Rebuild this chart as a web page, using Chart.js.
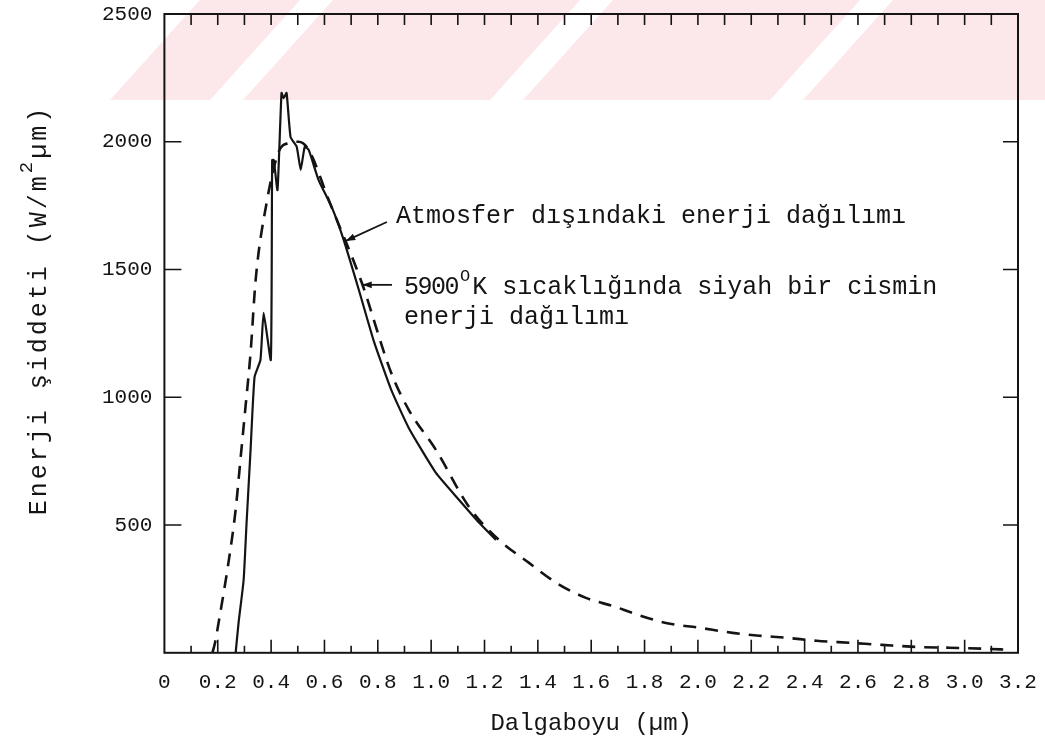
<!DOCTYPE html>
<html>
<head>
<meta charset="utf-8">
<script src="https://cdn.jsdelivr.net/npm/chart.js@4.4.0/dist/chart.umd.min.js"></script>
<style>
  html, body { margin: 0; padding: 0; background: #fff; }
  #wrap { width: 1045px; height: 747px; }
</style>
</head>
<body>
<div id="wrap"><canvas id="chart" width="1045" height="747"></canvas></div>
<script>
// ── Data ──
// solid: energy outside the atmosphere
const atmX = [0.267, 0.278, 0.297, 0.308, 0.323, 0.338, 0.36, 0.372, 0.399, 0.404, 0.41, 0.424, 0.439, 0.447, 0.458, 0.473, 0.496, 0.511, 0.526, 0.541, 0.578, 0.627, 0.672, 0.729, 0.785, 0.85, 0.916, 1.018, 1.104, 1.18, 1.243];
const atmY = [0, 117, 285, 508, 794, 1080, 1146, 1330, 1146, 1929, 1929, 1811, 2191, 2171, 2191, 2018, 1980, 1890, 1980, 1968, 1850, 1745, 1616, 1420, 1220, 1030, 880, 704, 599, 509, 442];

// dashed: 5900 K black body
const bbX = [0.18, 0.19, 0.203, 0.24, 0.267, 0.285, 0.304, 0.323, 0.342, 0.383, 0.428, 0.466, 0.503, 0.541, 0.616, 0.74, 0.849, 0.916, 1.018, 1.142, 1.254, 1.367, 1.469, 1.58, 1.69, 1.754, 1.88, 2.006, 2.13, 2.23, 2.33, 2.445, 2.57, 2.69, 2.82, 2.94, 3.07, 3.17];
const bbY = [0, 40, 117, 352, 559, 755, 962, 1174, 1459, 1760, 1960, 1995, 2000, 1968, 1772, 1448, 1099, 951, 794, 571, 442, 352, 274, 215, 180, 156, 117, 98, 78, 67, 59, 47, 39, 31, 23, 20, 16, 12];

const yTicks = [500, 1000, 1500, 2000, 2500];

const INK = '#141414';
const MONO = '"Liberation Mono", "DejaVu Sans Mono", monospace';
const PINK = 'rgba(232, 40, 70, 0.11)';

const toPoints = (xs, ys) => xs.map((x, i) => ({ x, y: ys[i] }));

// ── Watermark, frame, inner ticks, annotations ──
const paperPlugin = {
  id: 'paper',
  beforeDraw(chart) {
    const ctx = chart.ctx;
    ctx.save();
    ctx.beginPath();
    ctx.rect(0, 0, chart.width, 100);
    ctx.clip();
    ctx.fillStyle = PINK;
    // pink slanted bands, white gaps between
    [[110, 210], [243, 490], [523, 770], [803, 1060]].forEach(([a, b]) => {
      ctx.beginPath();
      ctx.moveTo(a, 100);
      ctx.lineTo(b, 100);
      ctx.lineTo(b + 90, 0);
      ctx.lineTo(a + 90, 0);
      ctx.closePath();
      ctx.fill();
    });
    ctx.restore();
  },
  afterDraw(chart) {
    const { ctx, chartArea: a, scales: { x, y } } = chart;
    ctx.save();
    ctx.strokeStyle = INK;
    ctx.lineWidth = 2;
    ctx.strokeRect(a.left, a.top, a.right - a.left, a.bottom - a.top);

    // ticks pointing inward
    ctx.lineWidth = 1.6;
    ctx.beginPath();
    x.ticks.forEach(t => {
      const k = Math.round(t.value * 10);
      if (k === 0 || k === 32) return;
      const px = x.getPixelForValue(t.value);
      const len = k % 2 ? 7 : 13;
      ctx.moveTo(px, a.bottom); ctx.lineTo(px, a.bottom - len);
      ctx.moveTo(px, a.top); ctx.lineTo(px, a.top + 11);
    });
    y.ticks.forEach(t => {
      if (t.value === 0 || t.value === 2500) return;
      const py = y.getPixelForValue(t.value);
      ctx.moveTo(a.left, py); ctx.lineTo(a.left + 17, py);
      ctx.moveTo(a.right, py); ctx.lineTo(a.right - 15, py);
    });
    ctx.stroke();

    // arrows
    const arrow = (x1, y1, x2, y2) => {
      const p1 = [x.getPixelForValue(x1), y.getPixelForValue(y1)];
      const p2 = [x.getPixelForValue(x2), y.getPixelForValue(y2)];
      const ang = Math.atan2(p2[1] - p1[1], p2[0] - p1[0]);
      ctx.lineWidth = 1.8;
      ctx.beginPath();
      ctx.moveTo(p1[0], p1[1]);
      ctx.lineTo(p2[0], p2[1]);
      ctx.stroke();
      ctx.beginPath();
      ctx.moveTo(p2[0], p2[1]);
      ctx.lineTo(p2[0] - 10 * Math.cos(ang - 0.35), p2[1] - 10 * Math.sin(ang - 0.35));
      ctx.lineTo(p2[0] - 10 * Math.cos(ang + 0.35), p2[1] - 10 * Math.sin(ang + 0.35));
      ctx.closePath();
      ctx.fill();
    };
    ctx.fillStyle = INK;
    arrow(0.834, 1686, 0.68, 1612);
    arrow(0.853, 1440, 0.742, 1440);

    // annotation text
    ctx.font = '25px ' + MONO;
    ctx.textBaseline = 'middle';
    ctx.textAlign = 'left';
    ctx.fillText('Atmosfer dışındaki enerji dağılımı', x.getPixelForValue(0.868), y.getPixelForValue(1708));
    let tx = x.getPixelForValue(0.898);
    const ty = y.getPixelForValue(1430);
    ctx.letterSpacing = '-1.5px';
    ctx.fillText('5900', tx, ty);
    tx += ctx.measureText('5900').width + 2;
    ctx.letterSpacing = '0px';
    ctx.font = '17px ' + MONO;
    ctx.fillText('O', tx, ty - 11);
    tx += ctx.measureText('O').width + 2;
    ctx.font = '25px ' + MONO;
    ctx.fillText('K sıcaklığında siyah bir cismin', tx, ty);
    ctx.fillText('enerji dağılımı', x.getPixelForValue(0.898), y.getPixelForValue(1312));

    // axis titles
    ctx.textAlign = 'center';
    ctx.font = '24px ' + MONO;
    ctx.fillText('Dalgaboyu (µm)', (a.left + a.right) / 2, 724);

    ctx.save();
    ctx.translate(39, 310);
    ctx.rotate(-Math.PI / 2);
    ctx.textAlign = 'left';
    ctx.font = '25px ' + MONO;
    ctx.letterSpacing = '3px';
    const p1 = 'Enerji şiddeti (W/m', p2 = 'µm)';
    const w1 = ctx.measureText(p1).width, w2 = ctx.measureText(p2).width;
    ctx.font = '19px ' + MONO;
    const ws = ctx.measureText('2').width;
    let sx = -(w1 + ws + w2) / 2;
    ctx.font = '25px ' + MONO;
    ctx.fillText(p1, sx, 0);
    sx += w1;
    ctx.font = '19px ' + MONO;
    ctx.fillText('2', sx, -12);
    sx += ws;
    ctx.font = '25px ' + MONO;
    ctx.fillText(p2, sx, 0);
    ctx.restore();

    ctx.restore();
  }
};

new Chart(document.getElementById('chart'), {
  type: 'scatter',
  data: {
    datasets: [
      {
        label: 'Atmosfer dışındaki enerji dağılımı',
        data: toPoints(atmX, atmY),
        showLine: true,
        borderColor: INK,
        borderWidth: 2.2,
        pointRadius: 0,
        tension: 0.15
      },
      {
        label: '5900 K siyah cisim',
        data: toPoints(bbX, bbY),
        showLine: true,
        borderColor: INK,
        borderWidth: 2.6,
        borderDash: [13, 9],
        pointRadius: 0,
        cubicInterpolationMode: 'monotone'
      }
    ]
  },
  options: {
    responsive: false,
    animation: false,
    devicePixelRatio: 1,
    layout: { padding: { left: 90, right: 27, top: 14, bottom: 35 } },
    plugins: { legend: { display: false }, tooltip: { enabled: false } },
    scales: {
      x: {
        type: 'linear',
        min: 0,
        max: 3.2,
        grid: { display: false, drawTicks: false },
        border: { display: false },
        afterFit: s => { s.paddingRight = 0; },
        ticks: {
          stepSize: 0.1,
          autoSkip: false,
          maxRotation: 0,
          padding: 17,
          color: INK,
          font: { family: MONO, size: 21 },
          callback: v => {
            const k = Math.round(v * 10);
            if (k % 2) return '';
            return k === 0 ? '0' : (k / 10).toFixed(1);
          }
        }
      },
      y: {
        type: 'linear',
        min: 0,
        max: 2500,
        afterBuildTicks: s => { s.ticks = [0, ...yTicks].map(v => ({ value: v })); },
        afterFit: s => { s.paddingTop = 0; },
        grid: { display: false, drawTicks: false },
        border: { display: false },
        ticks: {
          padding: 12,
          color: INK,
          font: { family: MONO, size: 21 },
          callback: v => (v === 0 ? '' : String(v))
        }
      }
    }
  },
  plugins: [paperPlugin]
});
</script>
</body>
</html>
